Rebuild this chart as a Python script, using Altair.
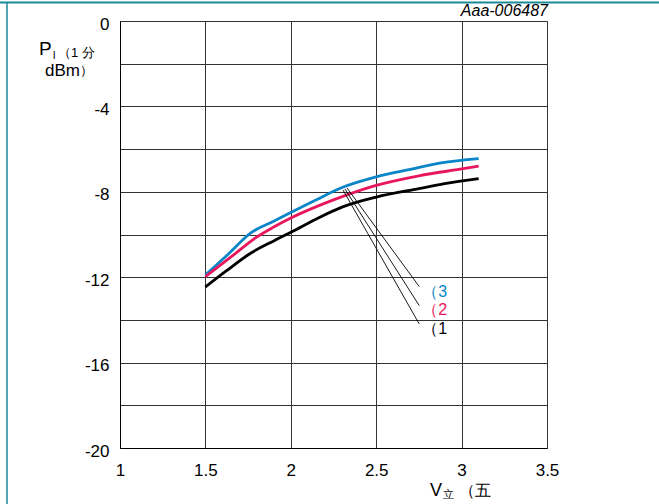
import altair as alt
import pandas as pd

# ---- data ----
v_blue = [1.5, 1.63, 1.77, 1.90, 2.0, 2.15, 2.3, 2.5, 2.7, 2.88, 3.1]
p_blue = [-11.9, -10.95, -9.9, -9.38, -8.97, -8.37, -7.8, -7.3, -6.95, -6.65, -6.45]
v_red = [1.5, 1.65, 1.80, 1.90, 2.0, 2.25, 2.5, 2.75, 3.0, 3.1]
p_red = [-11.97, -11.05, -10.12, -9.65, -9.23, -8.38, -7.7, -7.25, -6.93, -6.8]
v_blk = [1.5, 1.62, 1.76, 1.9, 2.0, 2.15, 2.3, 2.5, 2.75, 2.9, 3.1]
p_blk = [-12.46, -11.72, -10.9, -10.3, -9.9, -9.27, -8.72, -8.25, -7.85, -7.62, -7.38]

series_names = ["1", "2", "3"]
series_colors = ["#000000", "#e8175d", "#0a86c8"]

# leader lines: start on curve, end near labels
lead_v1 = [2.329, 2.317, 2.306]
lead_p1 = [-7.82, -7.87, -7.92]
lead_v2 = [2.752, 2.752, 2.752]
lead_p2 = [-12.44, -13.33, -14.19]
lead_name = ["3", "2", "1"]

lab_text = ["\uff083", "\uff082", "\uff081"]
lab_v = [2.77, 2.77, 2.77]
lab_p = [-12.69, -13.54, -14.43]

x_ticks = [1, 1.5, 2, 2.5, 3, 3.5]
y_ticks = [0, -2, -4, -6, -8, -10, -12, -14, -16, -18, -20]

rows = []
for name, vs, ps in [("3", v_blue, p_blue), ("2", v_red, p_red), ("1", v_blk, p_blk)]:
    for v, p in zip(vs, ps):
        rows.append({"s": name, "V": v, "P": p})
curves = pd.DataFrame(rows)
leaders = pd.DataFrame({"V": lead_v1, "P": lead_p1, "V2": lead_v2, "P2": lead_p2, "s": lead_name})
labels = pd.DataFrame({"V": lab_v, "P": lab_p, "t": lab_text, "s": ["3", "2", "1"]})

FONT = "Liberation Sans"
xs = alt.Scale(domain=[1, 3.5], nice=False, zero=False)
ys = alt.Scale(domain=[-20, 0], nice=False, zero=False)
cs = alt.Scale(domain=series_names, range=series_colors)

base = alt.Chart(curves).encode(
    x=alt.X("V:Q", scale=xs, axis=alt.Axis(values=x_ticks, title=None, grid=True,
            gridColor="#333333", gridWidth=1, gridOpacity=1, ticks=False,
            domainColor="#000000", labelFont=FONT, labelFontSize=17, labelColor="#000000",
            labelPadding=14, labelFlush=False, labelBaseline="top",
            labelExpr="'' + datum.value")),
    y=alt.Y("P:Q", scale=ys, axis=alt.Axis(values=y_ticks, title=None, grid=True,
            gridColor="#333333", gridWidth=1, gridOpacity=1, ticks=False,
            domainColor="#000000", labelFont=FONT, labelFontSize=17, labelColor="#000000",
            labelPadding=11, labelFlush=False, labelOffset=3,
            labelExpr="datum.value % 4 == 0 ? '' + datum.value : ''")),
)

lines = base.mark_line(strokeWidth=2.8, interpolate="monotone").encode(
    color=alt.Color("s:N", scale=cs, legend=None), detail="s:N")

leads = alt.Chart(leaders).mark_rule(color="#000000", strokeWidth=0.9).encode(
    x=alt.X("V:Q", scale=xs), y=alt.Y("P:Q", scale=ys), x2="V2:Q", y2="P2:Q")

labs = alt.Chart(labels).mark_text(font=FONT, fontSize=16, align="left", baseline="middle").encode(
    x=alt.X("V:Q", scale=xs), y=alt.Y("P:Q", scale=ys), text="t:N",
    color=alt.Color("s:N", scale=cs, legend=None))

def txt(s, x, y, size, align="left", style="normal", color="#000000", baseline="alphabetic"):
    return alt.Chart(pd.DataFrame({"t": [s]})).mark_text(
        font=FONT, fontSize=size, align=align, baseline=baseline, fontStyle=style, color=color
    ).encode(text="t:N", x=alt.value(x), y=alt.value(y))

titles = [
    txt("P", -81, 34, 19),
    txt("l", -67, 38, 11),
    txt("\uff081 分", -62, 36, 13),
    txt("dBm", -75, 55, 17),
    txt("\uff09", -40, 54, 13),
    txt("V", 310, 475, 18),
    txt("立", 323, 477, 11),
    txt("\uff08五", 339, 475, 16),
    txt("Aaa-006487", 428, -5, 16, align="right", style="italic"),
]

border_top = alt.Chart(pd.DataFrame({"a": [0]})).mark_rule(color="#1b8a9b", strokeWidth=2).encode(
    x=alt.value(-120), x2=alt.value(539), y=alt.value(-18.5))
border_left = alt.Chart(pd.DataFrame({"a": [0]})).mark_rule(color="#1b8a9b", strokeWidth=1.5).encode(
    x=alt.value(-113), y=alt.value(-19), y2=alt.value(483))

chart = alt.layer(lines, leads, labs, *titles, border_top, border_left).properties(
    width=427, height=427,
    autosize=alt.AutoSizeParams(type="none"),
    padding={"left": 120, "top": 21, "right": 112, "bottom": 56},
).configure_view(stroke="#000000", strokeWidth=1).configure(background="#ffffff")

chart.save("out.html", embed_options={"renderer": "svg", "actions": False})
